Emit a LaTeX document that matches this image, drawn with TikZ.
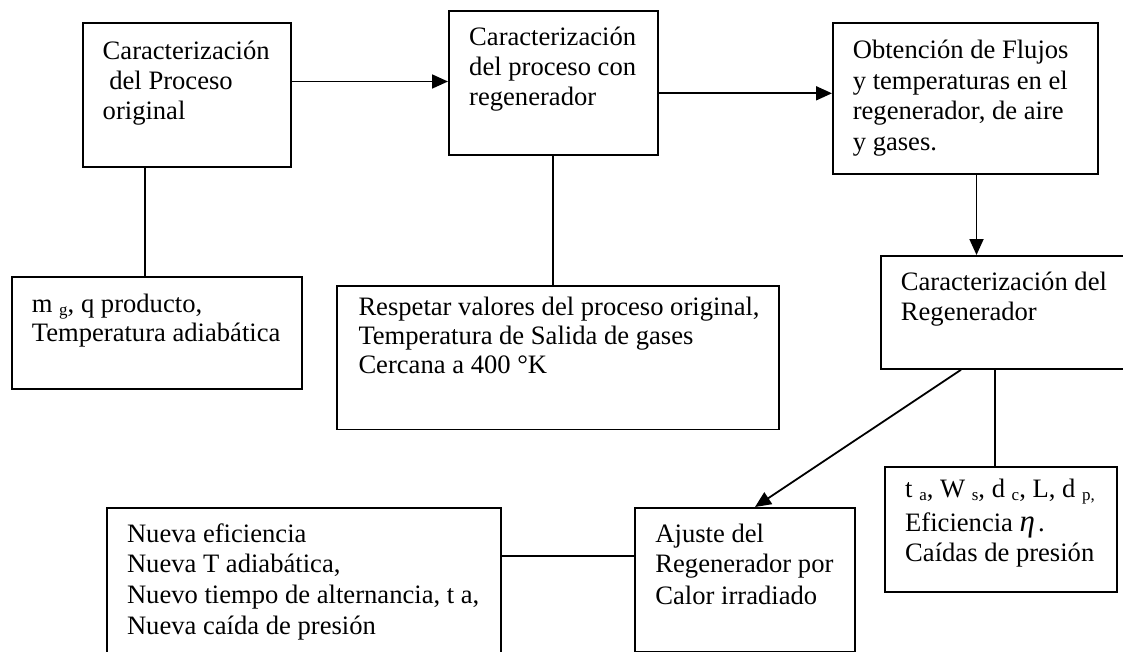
\documentclass[tikz,border=0pt]{standalone}
\usepackage{fontspec}
\setmainfont{Liberation Serif}
\usetikzlibrary{arrows.meta}
\newcommand\bigtxt{\fontsize{26.6}{30}\selectfont}
\newcommand\mysub[1]{\raisebox{-3pt}{\fontsize{17}{17}\selectfont #1}}
\newcommand\etafont{\fontsize{31}{31}\selectfont\itshape}
\begin{document}
\begin{tikzpicture}[x=1pt,y=-1pt,
  box/.style={draw, line width=1.8pt, rectangle, inner sep=0pt, anchor=north west},
  txt/.style={anchor=base west, inner sep=0pt, font=\bigtxt},
  ln/.style={line width=1.8pt},
  arr/.style={line width=1.8pt, -{Triangle[length=16pt,width=14pt]}}]
\useasboundingbox (0,0) rectangle (1123,652);
\fill[white] (0,0) rectangle (1123,652);
\clip (0,0) rectangle (1123,652);

% boxes
\node[box, minimum width=208pt, minimum height=144pt] (A) at (82,22.5) {};
\node[box, minimum width=209pt, minimum height=144pt] (B) at (448,10) {};
\node[box, minimum width=265pt, minimum height=151pt] (C) at (832,22.3) {};
\node[box, minimum width=262pt, minimum height=113pt] (D) at (880,255) {};
\node[box, minimum width=290pt, minimum height=112pt] (E) at (11,276) {};
\node[box, minimum width=442pt, minimum height=143.5pt] (F) at (336,285) {};
\node[box, minimum width=394pt, minimum height=190pt] (G) at (106,507) {};
\node[box, minimum width=220pt, minimum height=144pt] (H) at (634,507) {};
\node[box, minimum width=232pt, minimum height=125pt] (I) at (884,466) {};

% texts
\node[txt] (a1) at (102.5,59.3) {Caracterización};
\node[txt] (a2) at (102.5,89.5) {\ del Proceso};
\node[txt] (a3) at (102.5,119.5) {original};

\node[txt] (b1) at (469,46) {Caracterización};
\node[txt] (b2) at (469,76) {del proceso con};
\node[txt] (b3) at (469,106) {regenerador};

\node[txt] (c1) at (852.6,59) {Obtención de Flujos};
\node[txt] (c2) at (852.6,89.5) {y temperaturas en el};
\node[txt] (c3) at (852.6,120) {regenerador, de aire};
\node[txt] (c4) at (852.6,150.5) {y gases.};

\node[txt] (d1) at (900.7,290) {Caracterización del};
\node[txt] (d2) at (900.7,320.5) {Regenerador};

\node[txt] (e1) at (31.7,312.7) {m \mysub{g}, q producto,};
\node[txt] (e2) at (31.7,341.7) {Temperatura adiabática};

\node[txt] (f1) at (358.3,315.7) {Respetar valores del proceso original,};
\node[txt] (f2) at (358.3,344.3) {Temperatura de Salida de gases};
\node[txt] (f3) at (358.3,373.3) {Cercana a 400 °K};

\node[txt] (g1) at (126.8,542.7) {Nueva eficiencia};
\node[txt] (g2) at (126.8,572.7) {Nueva T adiabática,};
\node[txt] (g3) at (126.8,603.3) {Nuevo tiempo de alternancia, t a,};
\node[txt] (g4) at (126.8,634.3) {Nueva caída de presión};

\node[txt] (h1) at (655.2,542.3) {Ajuste del};
\node[txt] (h2) at (655.2,572.7) {Regenerador por};
\node[txt] (h3) at (655.2,604) {Calor irradiado};

\node[txt] (i1) at (905,497.7) {t \mysub{a}, W \mysub{s}, d \mysub{c}, L, d \mysub{p,}};
\node[txt] (i2) at (905,531) {Eficiencia {\etafont η}\hspace{3pt}.};
\node[txt] (i3) at (905,561.7) {Caídas de presión};

% connector guides
\coordinate (yAB) at (0,81.5);
\coordinate (yBC) at (0,93.3);
\coordinate (xCD) at (976.5,0);
\coordinate (xAE) at (145,0);
\coordinate (xBF) at (552.7,0);
\coordinate (xDI) at (995,0);
\coordinate (xDH1) at (961,0);
\coordinate (xDH2) at (755,0);
\coordinate (yGH) at (0,556);

\draw[arr] (A.east |- yAB) -- (B.west |- yAB);
\draw[arr] (B.east |- yBC) -- (C.west |- yBC);
\draw[arr] (C.south -| xCD) -- (D.north -| xCD);
\draw[ln] (A.south -| xAE) -- (E.north -| xAE);
\draw[ln] (B.south -| xBF) -- (F.north -| xBF);
\draw[ln] (D.south -| xDI) -- (I.north -| xDI);
\draw[arr] (D.south -| xDH1) -- (H.north -| xDH2);
\draw[ln] (G.east |- yGH) -- (H.west |- yGH);
\end{tikzpicture}
\end{document}
